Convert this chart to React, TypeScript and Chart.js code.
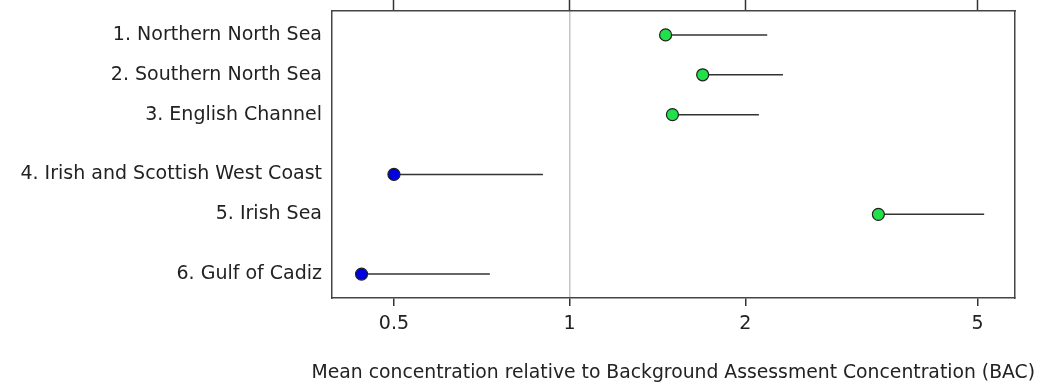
import React, { useEffect, useRef } from "react";
import { Chart, registerables } from "chart.js";

Chart.register(...registerables);

const regionLabels = [
  "1. Northern North Sea",
  "2. Southern North Sea",
  "3. English Channel",
  "4. Irish and Scottish West Coast",
  "5. Irish Sea",
  "6. Gulf of Cadiz",
];
const rowPositions = [1, 2, 3, 4.5, 5.5, 7];
const meanValues = [1.46, 1.69, 1.5, 0.5, 3.38, 0.44];
const upperValues = [2.18, 2.32, 2.11, 0.9, 5.13, 0.73];
const statusClass = ["green", "green", "green", "blue", "green", "blue"];
const xTickValues = [0.5, 1, 2, 5];
const xTitle = "Mean concentration relative to Background Assessment Concentration (BAC)";

const X_MIN = 0.3916;
const X_MAX = 5.794;
const Y_MIN = 0.4;
const Y_MAX = 7.6;

const statusColor: Record<string, string> = { green: "#22e04a", blue: "#0000e0" };

export default function App() {
  const ref = useRef<HTMLCanvasElement | null>(null);

  useEffect(() => {
    if (!ref.current) return;
    const font = { family: "'DejaVu Sans', sans-serif", size: 19 };
    const frame = "#444444";

    const segmentSets = rowPositions.map((y, i) => ({
      type: "line" as const,
      data: [
        { x: meanValues[i], y },
        { x: upperValues[i], y },
      ],
      showLine: true,
      borderColor: "#333333",
      borderWidth: 1.5,
      pointRadius: 0,
      order: 2,
    }));

    const chart = new Chart(ref.current, {
      type: "scatter",
      data: {
        datasets: [
          {
            data: rowPositions.map((y, i) => ({ x: meanValues[i], y })),
            pointRadius: 6,
            pointBackgroundColor: statusClass.map((c) => statusColor[c]),
            pointBorderColor: "#202020",
            pointBorderWidth: 1.2,
            showLine: false,
            order: 0,
          } as any,
          ...segmentSets,
        ],
      },
      options: {
        animation: false,
        responsive: false,
        layout: { padding: { left: 0, right: 14, top: 0, bottom: 0 } },
        plugins: {
          legend: { display: false },
          tooltip: { enabled: false },
          title: {
            display: true,
            position: "bottom",
            fullSize: true,
            align: "end",
            text: xTitle,
            color: "#222",
            font: { family: font.family, size: 18.8, weight: "normal" },
            padding: { top: 0, bottom: -2 },
          },
        },
        scales: {
          x: {
            type: "logarithmic",
            position: "bottom",
            min: X_MIN,
            max: X_MAX,
            afterBuildTicks: (s: any) => {
              s.ticks = xTickValues.map((v) => ({ value: v }));
            },
            afterFit: (s: any) => {
              s.height = 63.4;
              s.paddingLeft = 0;
              s.paddingRight = 0;
            },
            ticks: {
              autoSkip: false,
              maxRotation: 0,
              padding: 7,
              color: "#222",
              font,
              callback: (v: any) => String(v),
            },
            grid: {
              drawOnChartArea: true,
              color: (ctx: any) => (ctx.tick && ctx.tick.value === 1 ? "#c4c4c4" : "rgba(0,0,0,0)"),
              lineWidth: 1.5,
              tickColor: "#333",
              tickWidth: 1.5,
              tickLength: 8,
            },
            border: { display: true, color: frame, width: 1.5 },
          },
          x2: {
            type: "logarithmic",
            position: "top",
            min: X_MIN,
            max: X_MAX,
            afterBuildTicks: (s: any) => {
              s.ticks = xTickValues.map((v) => ({ value: v }));
            },
            afterFit: (s: any) => {
              s.height = 11;
              s.paddingLeft = 0;
              s.paddingRight = 0;
            },
            ticks: { display: false, autoSkip: false },
            grid: {
              drawOnChartArea: false,
              color: "#333",
              tickColor: "#333",
              tickWidth: 1.5,
              tickLength: 11,
            },
            border: { display: true, color: frame, width: 1.5 },
          },
          y: {
            type: "linear",
            position: "left",
            reverse: true,
            min: Y_MIN,
            max: Y_MAX,
            afterBuildTicks: (s: any) => {
              s.ticks = rowPositions.map((v) => ({ value: v }));
            },
            afterFit: (s: any) => {
              s.width = 332;
              s.paddingTop = 0;
              s.paddingBottom = 0;
            },
            ticks: {
              autoSkip: false,
              padding: 10,
              color: "#222",
              font,
              callback: (v: any) => {
                const i = rowPositions.indexOf(Number(v));
                return i >= 0 ? regionLabels[i] : "";
              },
            },
            grid: { display: false, drawTicks: false },
            border: { display: true, color: frame, width: 1.5 },
          },
          y2: {
            type: "linear",
            position: "right",
            reverse: true,
            min: Y_MIN,
            max: Y_MAX,
            afterFit: (s: any) => {
              s.width = 20;
              s.paddingTop = 0;
              s.paddingBottom = 0;
            },
            ticks: { display: false },
            grid: { display: false, drawTicks: false },
            border: { display: true, color: frame, width: 1.5 },
          },
        },
      } as any,
    });
    return () => chart.destroy();
  }, []);

  return (
    <div style={{ position: "absolute", left: 0, top: 0, width: 1049, height: 382, background: "#fff" }}>
      <canvas ref={ref} width={1049} height={382} style={{ display: "block" }} />
    </div>
  );
}
